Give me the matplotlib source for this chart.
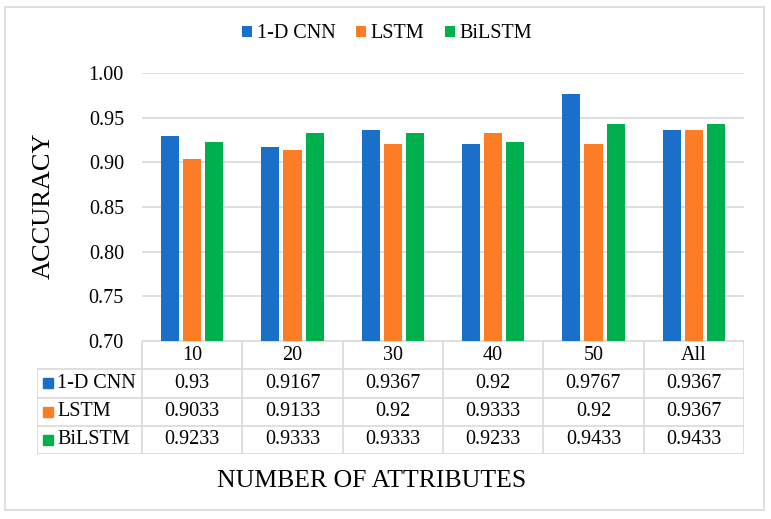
import matplotlib
matplotlib.use("Agg")
import matplotlib.pyplot as plt
from matplotlib.patches import Rectangle, Patch
import numpy as np

categories = ["10", "20", "30", "40", "50", "All"]
series_names = ["1-D CNN", "LSTM", "BiLSTM"]
cnn = [0.93, 0.9167, 0.9367, 0.92, 0.9767, 0.9367]
lstm = [0.9033, 0.9133, 0.92, 0.9333, 0.92, 0.9367]
bilstm = [0.9233, 0.9333, 0.9333, 0.9233, 0.9433, 0.9433]
cnn_txt = ["0.93", "0.9167", "0.9367", "0.92", "0.9767", "0.9367"]
lstm_txt = ["0.9033", "0.9133", "0.92", "0.9333", "0.92", "0.9367"]
bilstm_txt = ["0.9233", "0.9333", "0.9333", "0.9233", "0.9433", "0.9433"]
yticks = [0.70, 0.75, 0.80, 0.85, 0.90, 0.95, 1.00]

colors = ["#1a70c8", "#fc7d26", "#00b04f"]
grid_c = "#d9d9d9"
plt.rcParams['font.family'] = ['Liberation Serif', 'DejaVu Serif']

W, H = 771, 519
fig = plt.figure(figsize=(W / 100, H / 100), dpi=100)

def fx(px):
    return px / W

def fy(py):
    return 1 - py / H

# chart border
fig.patches.append(Rectangle((fx(5), fy(510)), fx(764) - fx(5), fy(7) - fy(510),
                             transform=fig.transFigure, fill=False,
                             edgecolor=grid_c, linewidth=1.2))

left, right, top, bottom = 142, 744, 73, 341
ax = fig.add_axes([fx(left), fy(bottom), fx(right) - fx(left), fy(top) - fy(bottom)])
x = np.arange(len(categories))
bw = 0.18
step = 0.22
all_series = [cnn, lstm, bilstm]
for i, vals in enumerate(all_series):
    ax.bar(x + 0.5 + (i - 1) * step, np.array(vals) - 0.70, bw, bottom=0.70,
           color=colors[i], zorder=3)
ax.set_xlim(0, len(categories))
ax.set_ylim(0.70, 1.00)
ax.set_yticks(yticks)
ax.set_yticklabels([f"{v:.2f}" for v in yticks], fontsize=14.5)
ax.tick_params(axis='y', length=0, pad=13)
ax.set_xticks([])
ax.yaxis.grid(True, color=grid_c, linewidth=1.2, zorder=0)
for s in ax.spines.values():
    s.set_visible(False)

# data table
tl, tt, tb = 37, 341, 454
tax = fig.add_axes([fx(tl), fy(tb), fx(right) - fx(tl), fy(tt) - fy(tb)])
lab_w = (left - tl) / ((right - left) / len(categories))
tax.set_xlim(-lab_w, len(categories))
tax.set_ylim(4, 0)
tax.axis('off')
lw = 1.2
tax.plot([0, len(categories)], [0, 0], color=grid_c, lw=lw)
for r in range(1, 5):
    tax.plot([-lab_w, len(categories)], [r, r], color=grid_c, lw=lw)
tax.plot([-lab_w, -lab_w], [1, 4], color=grid_c, lw=lw)
for c in range(len(categories) + 1):
    tax.plot([c, c], [0, 4], color=grid_c, lw=lw)
for c, cat in enumerate(categories):
    tax.text(c + 0.5, 0.5, cat, ha='center', va='center', fontsize=14.5)
rows_txt = [cnn_txt, lstm_txt, bilstm_txt]
for r, (name, txts) in enumerate(zip(series_names, rows_txt)):
    yy = r + 1.5
    for c, t in enumerate(txts):
        tax.text(c + 0.5, yy, t, ha='center', va='center', fontsize=14.5)
    tax.plot([-lab_w + 0.105], [yy], marker='s', markersize=7.5, color=colors[r],
             linestyle='none')
    tax.text(-lab_w + 0.2, yy, name, ha='left', va='center', fontsize=14.5)

# legend
handles = [Patch(facecolor=c, edgecolor='none') for c in colors]
fig.legend(handles, series_names, loc='center', bbox_to_anchor=(fx(387), fy(34)),
           ncol=3, frameon=False, fontsize=14.5, handlelength=0.5, handleheight=0.5,
           handletextpad=0.25, columnspacing=1.0)

fig.text(fx(44), fy(206), "ACCURACY", rotation=90, ha='center', va='center', fontsize=19)
fig.text(fx(372), fy(481), "NUMBER OF ATTRIBUTES", ha='center', va='center', fontsize=18.5)

fig.savefig("out.png", dpi=100)
